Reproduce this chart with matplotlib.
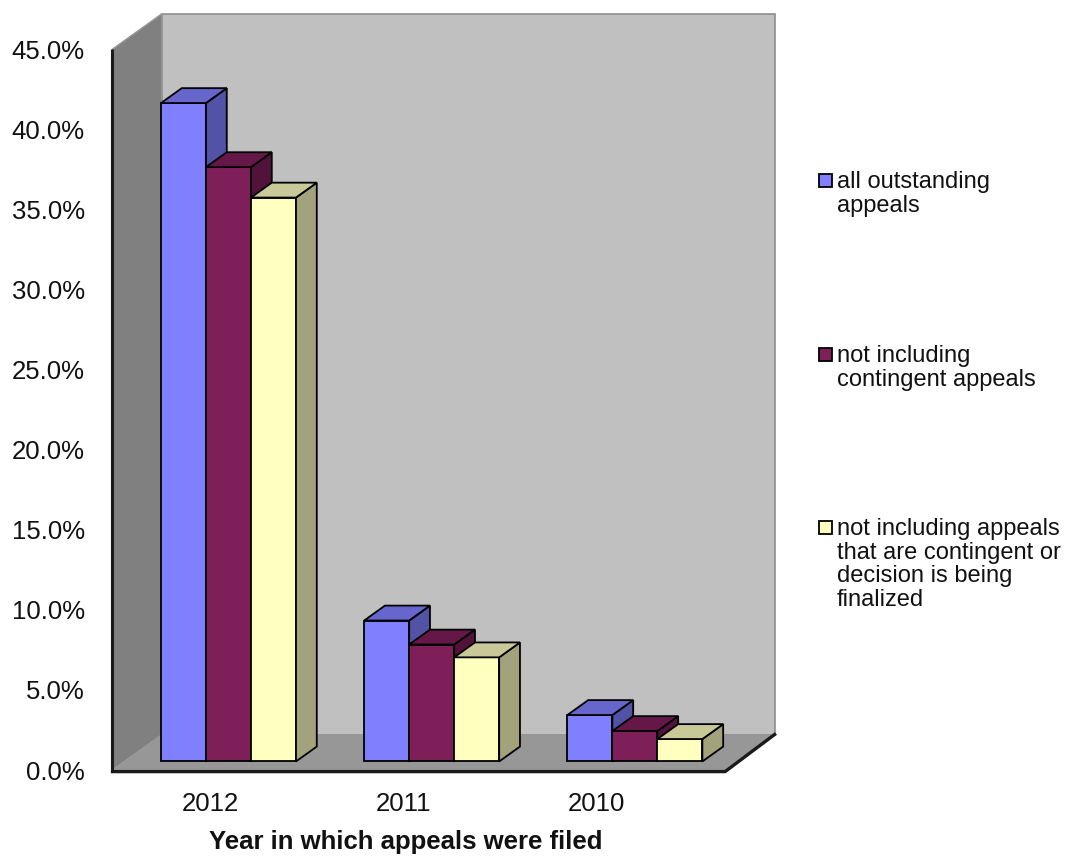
import matplotlib
matplotlib.use("Agg")
import matplotlib.pyplot as plt
from matplotlib.patches import Polygon, Rectangle
import numpy as np

plt.rcParams['font.family'] = ['Liberation Sans', 'DejaVu Sans']

years = ["2012", "2011", "2010"]
series_names = [
    "all outstanding\nappeals",
    "not including\ncontingent appeals",
    "not including appeals\nthat are contingent or\ndecision is being\nfinalized",
]
all_outstanding = [41.1, 8.8, 2.9]
not_contingent = [37.1, 7.3, 1.9]
not_contingent_final = [35.2, 6.5, 1.4]
series_values = [all_outstanding, not_contingent, not_contingent_final]
y_ticks = [0, 5, 10, 15, 20, 25, 30, 35, 40, 45]

front_colors = ["#8080FF", "#7F1F5A", "#FFFFC0"]
top_colors = ["#6666CC", "#651848", "#C8C898"]
side_colors = ["#5252A6", "#52133A", "#A2A27C"]

W, H = 1065, 857
fig = plt.figure(figsize=(W / 100, H / 100), dpi=100)
fig.patch.set_facecolor("white")

px_per_unit = 204.2
px_per_pct = 16.02
left_px, zero_px = 112.5, 770
xmin, xmax = -0.5, 2.75
ymin, ymax = 0, 47.5
ax = fig.add_axes([left_px / W, (H - zero_px) / H,
                   (xmax - xmin) * px_per_unit / W,
                   (ymax - ymin) * px_per_pct / H])
ax.set_xlim(xmin, xmax)
ax.set_ylim(ymin, ymax)
ax.set_facecolor("none")
for s in ax.spines.values():
    s.set_visible(False)

n = len(years)
top = y_ticks[-1]
DX = 49.5 / px_per_unit
DY = 35.5 / px_per_pct
x_l, x_r = -0.5, n - 0.5

# walls and floor
back = Polygon([(x_l + DX, DY), (x_r + DX, DY), (x_r + DX, top + DY), (x_l + DX, top + DY)],
               closed=True, facecolor="#C0C0C0", edgecolor="#8E8E8E", lw=1.2, zorder=1, clip_on=False)
leftw = Polygon([(x_l, 0), (x_l + DX, DY), (x_l + DX, top + DY), (x_l, top)],
                closed=True, facecolor="#808080", edgecolor="#9A9A9A", lw=1.0, zorder=1, clip_on=False)
floor = Polygon([(x_l, 0), (x_r, 0), (x_r + DX, DY), (x_l + DX, DY)],
                closed=True, facecolor="#979797", edgecolor="none", zorder=1, clip_on=False)
for p in (back, leftw, floor):
    ax.add_patch(p)
ax.plot([x_l, x_l], [0, top], color="#1a1a1a", lw=2.2, zorder=2, clip_on=False, solid_capstyle="butt")
ax.plot([x_l, x_r, x_r + DX], [-0.1, -0.1, DY], color="#1a1a1a", lw=2.4, zorder=2, clip_on=False)

# bars
bw = 45 / px_per_unit
f0, d = 0.24, 0.42
shift = 2.0 / px_per_unit
for i in range(n):
    for j, vals in enumerate(series_values):
        v = vals[i]
        x0 = i * (203.2 / px_per_unit) - 1.5 * bw + j * bw + f0 * DX + shift
        y0 = f0 * DY
        z = 5 + i * 3 + j
        ax.add_patch(Rectangle((x0, y0), bw, v, facecolor=front_colors[j], edgecolor="black",
                               lw=1.3, zorder=z, clip_on=False, joinstyle="miter"))
        ax.add_patch(Polygon([(x0 + bw, y0), (x0 + bw + d * DX, y0 + d * DY),
                              (x0 + bw + d * DX, y0 + v + d * DY), (x0 + bw, y0 + v)],
                             closed=True, facecolor=side_colors[j], edgecolor="black",
                             lw=1.3, zorder=z, clip_on=False, joinstyle="miter"))
        ax.add_patch(Polygon([(x0, y0 + v), (x0 + bw, y0 + v),
                              (x0 + bw + d * DX, y0 + v + d * DY), (x0 + d * DX, y0 + v + d * DY)],
                             closed=True, facecolor=top_colors[j], edgecolor="black",
                             lw=1.3, zorder=z, clip_on=False, joinstyle="miter"))

ax.set_yticks(y_ticks)
ax.set_yticklabels([f"{t:.1f}%" for t in y_ticks], fontsize=18.5, color="#111111")
ax.set_xticks(np.arange(n) * 0.945 - 0.022)
ax.set_xticklabels(years, fontsize=18.5, color="#111111")
ax.tick_params(axis="y", length=0, pad=20)
ax.tick_params(axis="x", length=0, pad=16)

fig.text(406 / W, 1 - 842 / H, "Year in which appeals were filed", fontsize=18.5,
         fontweight="bold", ha="center", va="center", color="#111111")

# legend
leg_tops = [171, 345, 518]
for j, name in enumerate(series_names):
    ty = leg_tops[j]
    fig.patches.append(Rectangle((819 / W, 1 - (ty + 16) / H), 13 / W, 13 / H,
                                 transform=fig.transFigure, facecolor=front_colors[j],
                                 edgecolor="black", lw=1.3))
    fig.text(837 / W, 1 - ty / H, name, fontsize=17, ha="left", va="top",
             linespacing=1.1, color="#111111")

fig.savefig("out.png", dpi=100)
